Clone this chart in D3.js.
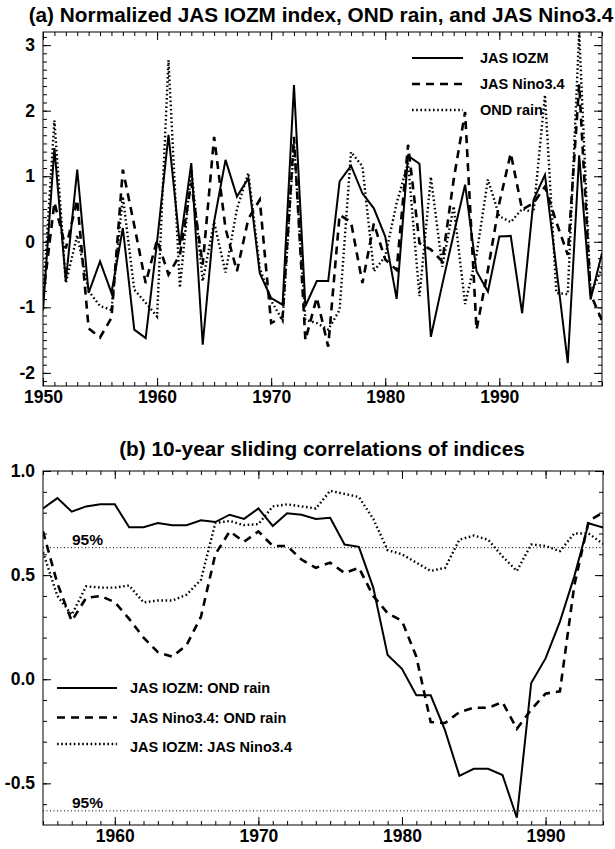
<!DOCTYPE html>
<meta charset="utf-8">
<script src="https://d3js.org/d3.v7.min.js"></script>
<style>
  body { margin: 0; background: #fff; }
  svg text { font-family: "Liberation Sans", Arial, Helvetica, sans-serif; fill: #000; }
  .tick line { stroke: #000; stroke-width: 1; }
</style>
<div id="chart"></div>
<script>
// ---- panel (a): normalized JAS IOZM, JAS Nino3.4 and OND rain, 1950-1999
var yearsA = d3.range(1950, 2000);
var iozm = [-1.05, 1.43, -0.6, 1.1, -0.78, -0.3, -0.78, 0.21, -1.34, -1.47,
            0.0, 1.63, -0.05, 1.2, -1.57, 0.31, 1.25, 0.69, 0.97, -0.48,
            -0.86, -0.96, 2.39, -0.98, -0.6, -0.6, 0.92, 1.16, 0.74, 0.51,
            0.08, -0.87, 1.31, 1.19, -1.45, -0.65, 0.12, 0.87, -0.45, -0.76,
            0.08, 0.09, -1.09, 0.64, 1.02, -0.4, -1.85, 1.32, -0.88, -0.17];
var nino = [-0.85, 0.6, -0.1, 0.64, -1.32, -1.46, -1.16, 1.1, 0.25, -0.63,
            0.03, -0.5, -0.2, 0.9, -0.35, 1.6, 0.2, -0.45, 0.35, 0.64,
            -1.24, -1.15, 1.6, -1.5, -0.85, -1.6, 0.41, 0.3, -0.63, 0.28,
            -0.27, -0.43, 1.48, -0.02, -0.12, -0.3, 0.95, 1.98, -1.34, -0.43,
            0.59, 1.35, 0.49, 0.59, 0.84, 0.3, -0.2, 2.4, -0.8, -1.2];
var ondRain = [-0.9, 1.85, -0.63, 0.1, -0.75, -0.98, -1.04, 0.69, -0.73, -0.93,
               -1.14, 2.77, -0.7, 1.1, -0.6, 0.3, -0.47, 0.5, 1.05, -0.4,
               -0.9, -1.2, 1.5, -1.19, -1.24, -1.34, -1.04, 1.37, 1.15, -0.45,
               -0.22, 0.59, 1.2, -0.83, 0.99, -0.38, 0.54, -0.95, -0.2, 0.95,
               0.39, 0.3, 0.5, 0.45, 2.24, -0.78, -0.8, 3.2, -0.8, -0.4];
var ticksAy = [-2, -1, 0, 1, 2, 3];
var ticksAx = [1950, 1960, 1970, 1980, 1990];
var legendA = ["JAS IOZM", "JAS Nino3.4", "OND rain"];

// ---- panel (b): 10-year sliding correlations, 1955-1994
var yearsB = d3.range(1955, 1995);
var corrIozmRain = [0.82, 0.87, 0.805, 0.83, 0.84, 0.84, 0.73, 0.73, 0.75, 0.74,
                    0.74, 0.763, 0.755, 0.79, 0.77, 0.82, 0.736, 0.797, 0.79, 0.77,
                    0.775, 0.647, 0.636, 0.44, 0.116, 0.05, -0.077, -0.077, -0.246, -0.464,
                    -0.43, -0.43, -0.46, -0.665, -0.018, 0.1, 0.277, 0.494, 0.749, 0.728];
var corrNinoRain = [0.71, 0.46, 0.28, 0.39, 0.40, 0.37, 0.29, 0.20, 0.13, 0.108,
                    0.164, 0.30, 0.60, 0.71, 0.66, 0.71, 0.64, 0.64, 0.575, 0.535,
                    0.56, 0.51, 0.535, 0.40, 0.317, 0.28, 0.108, -0.206, -0.21, -0.158,
                    -0.137, -0.137, -0.11, -0.238, -0.146, -0.069, -0.058, 0.45, 0.76, 0.80];
var corrIozmNino = [0.61, 0.40, 0.31, 0.446, 0.44, 0.44, 0.45, 0.369, 0.378, 0.378,
                    0.406, 0.478, 0.75, 0.76, 0.74, 0.745, 0.83, 0.84, 0.83, 0.82,
                    0.905, 0.89, 0.875, 0.77, 0.62, 0.60, 0.56, 0.52, 0.535, 0.67,
                    0.69, 0.67, 0.59, 0.52, 0.647, 0.64, 0.615, 0.70, 0.70, 0.65];
var signif = [0.632, -0.632];
var ticksBy = [-0.5, 0.0, 0.5, 1.0];
var ticksBx = [1960, 1970, 1980, 1990];
var legendB = ["JAS IOZM: OND rain", "JAS Nino3.4: OND rain", "JAS IOZM: JAS Nino3.4"];

var W = 615, H = 849;
var svg = d3.select("#chart").append("svg")
    .attr("width", W).attr("height", H);

// line styles: solid, dashed, dotted
var styles = [
    { width: 2, dash: null },
    { width: 2.6, dash: "8,6" },
    { width: 2.4, dash: "1.6,2.6" }
];

function panel(opt) {
    var g = svg.append("g");
    var x = d3.scaleLinear().domain(opt.xdom).range([opt.left, opt.right]);
    var y = d3.scaleLinear().domain(opt.ydom).range([opt.bottom, opt.top]);

    // minor + major ticks, inward, on all four sides
    var xMinor = d3.range(Math.ceil(opt.xdom[0]), opt.xdom[1] + 1);
    var yMinor = d3.range(Math.ceil(opt.ydom[0] / opt.yminor), Math.floor(opt.ydom[1] / opt.yminor) + 1)
        .map(function (k) { return +(k * opt.yminor).toFixed(4); });

    g.append("g").attr("transform", "translate(0," + opt.bottom + ")")
        .call(d3.axisBottom(x).tickValues(xMinor).tickSizeInner(-4).tickSizeOuter(0).tickFormat(""));
    g.append("g").attr("transform", "translate(0," + opt.top + ")")
        .call(d3.axisTop(x).tickValues(xMinor).tickSizeInner(-4).tickSizeOuter(0).tickFormat(""));
    g.append("g").attr("transform", "translate(0," + opt.top + ")")
        .call(d3.axisTop(x).tickValues(opt.xticks).tickSizeInner(-8).tickSizeOuter(0).tickFormat(""));
    g.append("g").attr("transform", "translate(0," + opt.bottom + ")")
        .call(d3.axisBottom(x).tickValues(opt.xticks).tickSizeInner(-8).tickSizeOuter(0)
            .tickPadding(5).tickFormat(d3.format("d")));

    g.append("g").attr("transform", "translate(" + opt.left + ",0)")
        .call(d3.axisLeft(y).tickValues(yMinor).tickSizeInner(-4).tickSizeOuter(0).tickFormat(""));
    g.append("g").attr("transform", "translate(" + opt.right + ",0)")
        .call(d3.axisRight(y).tickValues(yMinor).tickSizeInner(-4).tickSizeOuter(0).tickFormat(""));
    g.append("g").attr("transform", "translate(" + opt.right + ",0)")
        .call(d3.axisRight(y).tickValues(opt.yticks).tickSizeInner(-8).tickSizeOuter(0).tickFormat(""));
    g.append("g").attr("transform", "translate(" + opt.left + ",0)")
        .call(d3.axisLeft(y).tickValues(opt.yticks).tickSizeInner(-8).tickSizeOuter(0)
            .tickPadding(8).tickFormat(opt.yfmt));

    g.selectAll(".domain").remove();
    g.selectAll(".tick text")
        .style("font-size", "17.5px").style("font-weight", "bold");

    g.append("rect")
        .attr("x", opt.left).attr("y", opt.top)
        .attr("width", opt.right - opt.left).attr("height", opt.bottom - opt.top)
        .attr("fill", "none").attr("stroke", "#000").attr("stroke-width", 1);

    g.append("text")
        .attr("x", opt.titleX).attr("y", opt.titleY)
        .attr("text-anchor", "middle")
        .style("font-size", "20.8px").style("font-weight", "bold")
        .text(opt.title);

    var clip = "clip" + opt.id;
    svg.append("clipPath").attr("id", clip).append("rect")
        .attr("x", opt.left).attr("y", opt.top - 2)
        .attr("width", opt.right - opt.left).attr("height", opt.bottom - opt.top + 4);

    var line = d3.line()
        .x(function (d) { return x(d[0]); })
        .y(function (d) { return y(d[1]); });

    opt.series.forEach(function (s, i) {
        g.append("path")
            .datum(opt.years.map(function (yr, j) { return [yr, s[j]]; }))
            .attr("clip-path", "url(#" + clip + ")")
            .attr("d", line)
            .attr("fill", "none")
            .attr("stroke", "#000")
            .attr("stroke-width", styles[i].width)
            .attr("stroke-dasharray", styles[i].dash)
            .attr("stroke-linejoin", "miter");
    });

    return { g: g, x: x, y: y };
}

// ---- panel (a)
var pa = panel({
    id: "a", left: 43, right: 602, top: 32, bottom: 386,
    xdom: [1950, 1999], ydom: [-2.2, 3.2], yminor: 0.125,
    xticks: ticksAx, yticks: ticksAy,
    yfmt: function (d) { return String(d); },
    title: "(a) Normalized JAS IOZM index, OND rain, and JAS Nino3.4",
    titleX: 321, titleY: 22,
    years: yearsA, series: [iozm, nino, ondRain]
});

var legA = pa.g.append("g");
legendA.forEach(function (name, i) {
    var ly = 58 + i * 26;
    legA.append("line")
        .attr("x1", 412).attr("x2", 463).attr("y1", ly).attr("y2", ly)
        .attr("stroke", "#000")
        .attr("stroke-width", styles[i].width)
        .attr("stroke-dasharray", styles[i].dash);
    legA.append("text")
        .attr("x", 480).attr("y", ly + 5)
        .style("font-size", "14.5px").style("font-weight", "bold")
        .text(name);
});

// ---- panel (b)
var pb = panel({
    id: "b", left: 43, right: 603, top: 471, bottom: 825,
    xdom: [1955, 1994], ydom: [-0.7, 1.0], yminor: 0.1,
    xticks: ticksBx, yticks: ticksBy,
    yfmt: function (d) { return d.toFixed(1); },
    title: "(b) 10-year sliding correlations of indices",
    titleX: 322, titleY: 456,
    years: yearsB, series: [corrIozmRain, corrNinoRain, corrIozmNino]
});

signif.forEach(function (v) {
    pb.g.append("line")
        .attr("x1", pb.x(1955)).attr("x2", pb.x(1994))
        .attr("y1", pb.y(v)).attr("y2", pb.y(v))
        .attr("stroke", "#000").attr("stroke-width", 1)
        .attr("stroke-dasharray", "1,2.5");
    pb.g.append("text")
        .attr("x", 72).attr("y", pb.y(v) - 3)
        .style("font-size", "15.5px").style("font-weight", "bold")
        .text("95%");
});

var legB = pb.g.append("g");
legendB.forEach(function (name, i) {
    var ly = 688 + i * 29.5;
    legB.append("line")
        .attr("x1", 57).attr("x2", 117)
        .attr("y1", i === 2 ? ly - 3 : ly).attr("y2", i === 2 ? ly - 3 : ly)
        .attr("stroke", "#000")
        .attr("stroke-width", styles[i].width)
        .attr("stroke-dasharray", styles[i].dash);
    legB.append("text")
        .attr("x", 130).attr("y", ly + 5)
        .style("font-size", "14.5px").style("font-weight", "bold")
        .text(name);
});
</script>
